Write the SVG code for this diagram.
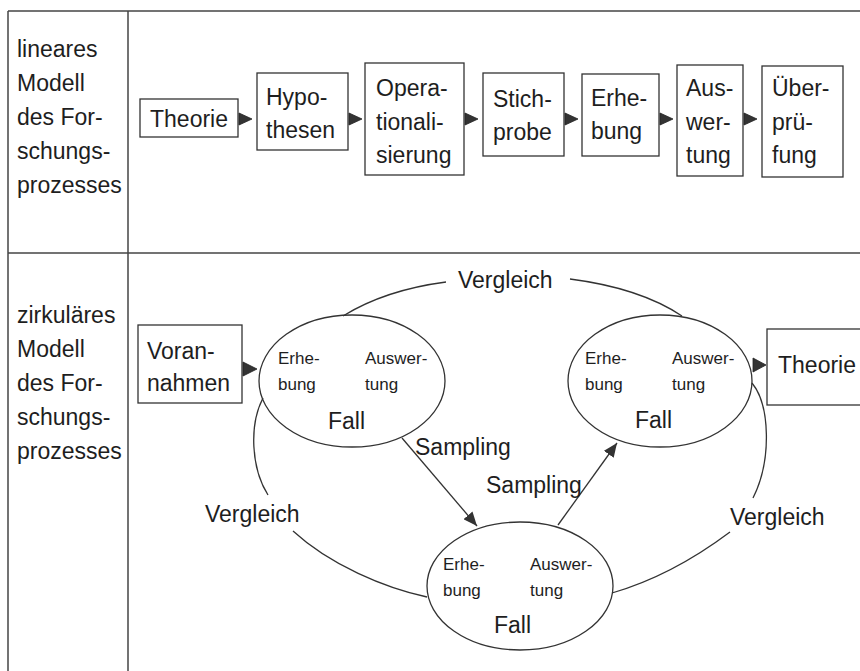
<svg xmlns="http://www.w3.org/2000/svg" width="860" height="671" viewBox="0 0 860 671">
<style>
text{font-family:"Liberation Sans",Arial,sans-serif;fill:#1e1e1e}
.t{font-size:23px}
.s{font-size:17px}
.b{fill:#fff;stroke:#333;stroke-width:1.3}
.e{fill:none;stroke:#333;stroke-width:1.3}
.ln{fill:none;stroke:#333;stroke-width:1.3}
.frame{fill:none;stroke:#444;stroke-width:1.5}
.ah{fill:#333;stroke:#222;stroke-width:0.8}
</style>
<defs>
<marker id="arr" viewBox="0 0 14 12" refX="14" refY="6" markerWidth="14" markerHeight="12" markerUnits="userSpaceOnUse" orient="auto">
<path d="M0,0 L14,6 L0,12 Z" fill="#333"/>
</marker>
</defs>
<g id="frame">
<line class="frame" x1="8" y1="11" x2="860" y2="11"/>
<line class="frame" x1="8" y1="11" x2="8" y2="671"/>
<line class="frame" x1="128" y1="11" x2="128" y2="671"/>
<line class="frame" x1="8" y1="253" x2="860" y2="253"/>
</g>
<g id="label-linear">
<text class="t" x="17" y="57">lineares</text>
<text class="t" x="17" y="91">Modell</text>
<text class="t" x="17" y="125">des For-</text>
<text class="t" x="17" y="159">schungs-</text>
<text class="t" x="17" y="193">prozesses</text>
</g>
<g id="label-zirkulaer">
<text class="t" x="17" y="323">zirkuläres</text>
<text class="t" x="17" y="357">Modell</text>
<text class="t" x="17" y="391">des For-</text>
<text class="t" x="17" y="425">schungs-</text>
<text class="t" x="17" y="459">prozesses</text>
</g>
<g id="n-theorie1">
<rect class="b" x="140" y="99" width="98" height="38"/>
<text class="t" x="150" y="127">Theorie</text>
</g>
<g id="n-hypothesen">
<rect class="b" x="257" y="73" width="91" height="77"/>
<text class="t" x="266" y="105">Hypo-</text>
<text class="t" x="266" y="138">thesen</text>
</g>
<g id="n-operationalisierung">
<rect class="b" x="365" y="63" width="99" height="112"/>
<text class="t" x="376" y="96">Opera-</text>
<text class="t" x="376" y="130">tionali-</text>
<text class="t" x="376" y="163">sierung</text>
</g>
<g id="n-stichprobe">
<rect class="b" x="483" y="73" width="81" height="83"/>
<text class="t" x="493" y="107">Stich-</text>
<text class="t" x="493" y="140">probe</text>
</g>
<g id="n-erhebung1">
<rect class="b" x="582" y="74" width="77" height="82"/>
<text class="t" x="591" y="106">Erhe-</text>
<text class="t" x="591" y="139">bung</text>
</g>
<g id="n-auswertung1">
<rect class="b" x="677" y="65" width="66" height="111"/>
<text class="t" x="686" y="96">Aus-</text>
<text class="t" x="686" y="130">wer-</text>
<text class="t" x="686" y="163">tung</text>
</g>
<g id="n-ueberpruefung">
<rect class="b" x="762" y="66" width="81" height="111"/>
<text class="t" x="772" y="96">Über-</text>
<text class="t" x="772" y="130">prü-</text>
<text class="t" x="772" y="163">fung</text>
</g>
<g id="n-vorannahmen">
<rect class="b" x="138" y="325" width="104" height="78"/>
<text class="t" x="147" y="359">Voran-</text>
<text class="t" x="147" y="391">nahmen</text>
</g>
<g id="n-fall1">
<ellipse class="e" cx="352" cy="381" rx="93" ry="66"/>
<text class="s" x="278" y="364">Erhe-</text>
<text class="s" x="278" y="390">bung</text>
<text class="s" x="365" y="364">Auswer-</text>
<text class="s" x="365" y="390">tung</text>
<text class="t" x="328" y="429">Fall</text>
</g>
<g id="n-fall2">
<ellipse class="e" cx="660" cy="381" rx="92" ry="66"/>
<text class="s" x="585" y="364">Erhe-</text>
<text class="s" x="585" y="390">bung</text>
<text class="s" x="672" y="364">Auswer-</text>
<text class="s" x="672" y="390">tung</text>
<text class="t" x="635" y="428">Fall</text>
</g>
<g id="n-fall3">
<ellipse class="e" cx="520" cy="586" rx="93" ry="64"/>
<text class="s" x="443" y="570">Erhe-</text>
<text class="s" x="443" y="596">bung</text>
<text class="s" x="530" y="570">Auswer-</text>
<text class="s" x="530" y="596">tung</text>
<text class="t" x="494" y="633">Fall</text>
</g>
<g id="n-theorie2">
<rect class="b" x="767" y="329" width="120" height="76"/>
<text class="t" x="778" y="373">Theorie</text>
</g>
<g id="connectors">
<polygon class="ah" points="239,113 252,119 239,125"/>
<polygon class="ah" points="349,113 362,119 349,125"/>
<polygon class="ah" points="465,113 478,119 465,125"/>
<polygon class="ah" points="565,113 578,119 565,125"/>
<polygon class="ah" points="660,113 673,119 660,125"/>
<polygon class="ah" points="744,113 757,119 744,125"/>
<polygon class="ah" points="243,362 257,369 243,376"/>
<polygon class="ah" points="753,358 766,365 753,372"/>
<path class="ln" d="M343,316 Q385,290 446,282"/>
<path class="ln" d="M570,279 Q640,288 682,316"/>
<path class="ln" d="M263,398 C249,425 251,468 268,495"/>
<path class="ln" d="M293,531 C330,565 385,588 427,597"/>
<path class="ln" d="M752,383 C770,405 772,460 753,498"/>
<path class="ln" d="M730,532 C690,562 650,582 612,593"/>
<line class="ln" x1="402" y1="438" x2="477" y2="526" marker-end="url(#arr)"/>
<line class="ln" x1="558" y1="525" x2="617" y2="443" marker-end="url(#arr)"/>
<text class="t" x="458" y="288">Vergleich</text>
<text class="t" x="205" y="522">Vergleich</text>
<text class="t" x="730" y="525">Vergleich</text>
<text class="t" x="415" y="455">Sampling</text>
<text class="t" x="486" y="493">Sampling</text>
</g>
</svg>
